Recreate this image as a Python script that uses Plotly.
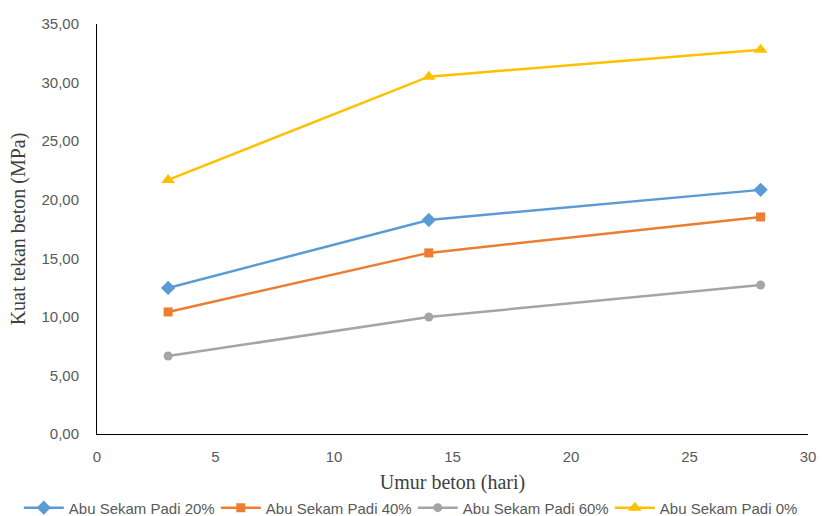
import plotly.graph_objects as go

# Umur beton (hari) and compressive strength results (MPa)
umur = [3, 14, 28]
asp_20 = [12.47, 18.27, 20.84]
asp_40 = [10.42, 15.46, 18.53]
asp_60 = [6.66, 9.99, 12.72]
asp_0 = [21.69, 30.50, 32.80]

series = [
    ("Abu Sekam Padi 20%", asp_20, "#5B9BD5", "diamond", 11),
    ("Abu Sekam Padi 40%", asp_40, "#ED7D31", "square", 9),
    ("Abu Sekam Padi 60%", asp_60, "#A5A5A5", "circle", 9),
    ("Abu Sekam Padi 0%", asp_0, "#FFC000", "triangle-up", 12),
]

fig = go.Figure()
for name, vals, color, symbol, size in series:
    fig.add_trace(go.Scatter(
        x=umur, y=vals, name=name, mode="lines+markers",
        line=dict(color=color, width=2.5),
        marker=dict(color=color, symbol=symbol, size=size, line=dict(width=0)),
    ))

tick_font = dict(family="Liberation Sans, Arial, sans-serif", size=15, color="#595959")
title_font = dict(family="Liberation Serif, Times New Roman, serif", size=20, color="#404040")

fig.update_layout(
    width=822, height=516,
    margin=dict(l=97, r=14, t=24, b=82, autoexpand=False),
    paper_bgcolor="white", plot_bgcolor="white",
    separators=",.",
    showlegend=True,
    legend=dict(
        orientation="h", x=-0.11, xanchor="left", y=-0.14, yanchor="top",
        font=dict(family="Liberation Sans, Arial, sans-serif", size=15, color="#595959"),
        entrywidth=142, entrywidthmode="pixels", itemwidth=40,
        traceorder="normal", bgcolor="rgba(0,0,0,0)",
    ),
    xaxis=dict(
        range=[0, 30], dtick=5, tick0=0,
        showgrid=False, zeroline=False,
        showline=True, linecolor="#000000", linewidth=1,
        ticks="", tickfont=tick_font, ticklabelstandoff=9,
        title=dict(text="Umur beton (hari)", font=title_font, standoff=10),
    ),
    yaxis=dict(
        range=[0, 35], dtick=5, tick0=0, tickformat=".2f",
        showgrid=False, zeroline=False,
        showline=True, linecolor="#000000", linewidth=1,
        ticks="", tickfont=tick_font, ticklabelstandoff=14,
        title=dict(text="Kuat tekan beton (MPa)", font=title_font, standoff=10),
    ),
)

fig.write_html("out.html")
